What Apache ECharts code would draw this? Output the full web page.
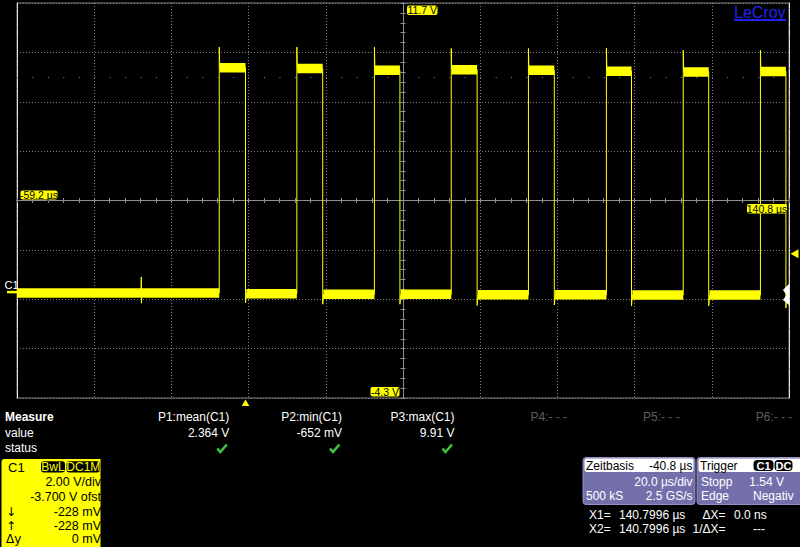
<!DOCTYPE html>
<html>
<head>
<meta charset="utf-8">
<script src="https://cdn.jsdelivr.net/npm/echarts@6/dist/echarts.min.js"></script>
<style>
html,body{margin:0;padding:0;background:#000;overflow:hidden;}
#c{width:800px;height:547px;}
</style>
</head>
<body>
<div id="c"></div>
<script>
const timeRange = [-59.2, 140.8];          // µs  (20 µs/div, 10 div)
const voltRange = [-4.3, 11.7];            // V   (2 V/div, 8 div, -3.7 V offset)
const riseTimes      = [-6.8, 13.3, 33.4, 53.3, 73.3, 93.5, 113.4, 133.4];
const fallTimes      = [0.0, 20.0, 40.0, 60.0, 80.0, 100.0, 120.0, 140.0];
const highLevels     = [9.08, 9.05, 8.98, 9.00, 8.98, 8.94, 8.91, 8.93];
const overshootPeaks = [9.91, 9.91, 9.91, 9.86, 9.86, 9.88, 9.79, 9.79];
const lowLevels      = [-0.05, -0.08, -0.10, -0.10, -0.12, -0.12, -0.13, -0.13, -0.13];
const undershoots    = [-0.45, -0.50, -0.50, -0.55, -0.53, -0.57, -0.57, -0.65];
const glitchTimes = [-27.0];
const glitchHigh  = [0.60];
const glitchLow   = [-0.46];
const triggerLevel = 1.54;      // V
const triggerTime  = 0.0;       // µs
const groundLevel  = 0.0;       // V
const cursorTime   = 140.7996;  // µs
const dottedRowLevel = 8.7;     // V
const scaleLabels = ['11.7 V', '-4.3 V', '-59.2 µs', '140.8 µs'];
const measureNames  = ['P1:mean(C1)', 'P2:min(C1)', 'P3:max(C1)', 'P4:- - -', 'P5:- - -', 'P6:- - -'];
const measureValues = ['2.364 V', '-652 mV', '9.91 V', '', '', ''];
const measureOk     = [true, true, true, false, false, false];
const channelRows   = [['', '2.00 V/div'], ['', '-3.700 V ofst'], ['↓', '-228 mV'], ['↑', '-228 mV'], ['Δy', '0 mV']];
const timebaseRows  = [['Zeitbasis', '-40.8 µs'], ['', '20.0 µs/div'], ['500 kS', '2.5 GS/s']];
const triggerRows   = [['Stopp', '1.54 V'], ['Edge', 'Negativ']];
const cursorRows    = [['X1=', '140.7996 µs', 'ΔX=', '0.0 ns'], ['X2=', '140.7996 µs', '1/ΔX=', '---']];

// ---------------- build series from the arrays ----------------
const trace = [];
trace.push([timeRange[0], lowLevels[0]]);
for (let g = 0; g < glitchTimes.length; g++) {
  trace.push([glitchTimes[g] - 0.05, lowLevels[0]], [glitchTimes[g], glitchHigh[g]],
             [glitchTimes[g] + 0.05, glitchLow[g]], [glitchTimes[g] + 0.1, lowLevels[0]]);
}
for (let i = 0; i < riseTimes.length; i++) {
  trace.push([riseTimes[i], lowLevels[i]], [riseTimes[i], overshootPeaks[i]],
             [riseTimes[i] + 0.12, highLevels[i]], [fallTimes[i], highLevels[i]],
             [fallTimes[i], undershoots[i]], [fallTimes[i] + 0.25, lowLevels[i + 1]]);
}
trace.push([timeRange[1], lowLevels[lowLevels.length - 1]]);

const band = [];
let segStart = timeRange[0];
for (let i = 0; i < riseTimes.length; i++) {
  band.push([segStart, lowLevels[i]], [riseTimes[i], lowLevels[i]], [riseTimes[i], '-']);
  band.push([riseTimes[i] + 0.1, highLevels[i]], [fallTimes[i], highLevels[i]], [fallTimes[i], '-']);
  segStart = fallTimes[i] + 0.2;
}
band.push([segStart, lowLevels[lowLevels.length - 1]], [timeRange[1], lowLevels[lowLevels.length - 1]]);

// ---------------- chart ----------------
const GRID = '#7c7c7c';
const CENTER = '#8e8e8e';
const YEL = '#ffff00';
const FONT = '"Liberation Sans", Arial, sans-serif';

function centerAxis(inside, dim) {
  return {
    type: 'value', min: dim === 'x' ? -5 : -4, max: dim === 'x' ? 5 : 4, interval: 1,
    axisLine: { show: true, onZero: true, onZeroAxisIndex: 2, lineStyle: { color: CENTER, width: 1 } },
    axisTick: { show: true, inside: inside, length: 2.5, lineStyle: { color: CENTER } },
    minorTick: { show: true, splitNumber: 5, length: 2.5, lineStyle: { color: CENTER } },
    axisLabel: { show: false }, splitLine: { show: false }
  };
}

const chart = echarts.init(document.getElementById('c'), null, { renderer: 'svg', width: 800, height: 547 });
const option = {
  backgroundColor: '#000000',
  animation: false,
  grid: { left: 17, top: 3, width: 772, height: 395, show: true, borderColor: '#808080', borderWidth: 1,
          containLabel: false, outerBoundsMode: 'none' },
  xAxis: [
    { type: 'value', min: timeRange[0], max: timeRange[1], show: false, axisLine: { onZero: false } },
    { type: 'value', min: 0, max: 10, interval: 1, position: 'bottom',
      axisLine: { show: false, onZero: false }, axisTick: { show: false }, axisLabel: { show: false },
      splitLine: { show: true, lineStyle: { color: GRID, type: [1, 2], width: 1 } } },
    centerAxis(true, 'x'),
    centerAxis(false, 'x')
  ],
  yAxis: [
    { type: 'value', min: voltRange[0], max: voltRange[1], show: false, axisLine: { onZero: false } },
    { type: 'value', min: 0, max: 8, interval: 1, position: 'left',
      axisLine: { show: true, onZero: false, lineStyle: { color: '#e6e6e6', type: [9, 1], width: 1 } },
      axisTick: { show: false }, axisLabel: { show: false },
      splitLine: { show: true, lineStyle: { color: GRID, type: [1, 2], width: 1 } } },
    centerAxis(true, 'y'),
    centerAxis(false, 'y'),
    { type: 'value', min: 0, max: 8, interval: 1, position: 'right',
      axisLine: { show: true, onZero: false, lineStyle: { color: '#e6e6e6', type: [9, 1], width: 1 } },
      axisTick: { show: false }, axisLabel: { show: false }, splitLine: { show: false } }
  ],
  series: [
    { name: 'band', type: 'line', xAxisIndex: 0, yAxisIndex: 0, data: band, showSymbol: false, silent: true,
      connectNulls: false, lineStyle: { color: YEL, width: 9.5, cap: 'butt' }, z: 3 },
    { name: 'C1', type: 'line', xAxisIndex: 0, yAxisIndex: 0, data: trace, showSymbol: false, silent: true,
      lineStyle: { color: YEL, width: 1 }, z: 4,
      markLine: { silent: true, symbol: ['none', 'none'], label: { show: false },
        lineStyle: { color: '#8a8a8a', type: [1, 14.44], width: 1 },
        data: [{ yAxis: dottedRowLevel }] } }
  ]
};
chart.setOption(option);

// ---------------- texts and indicators ----------------
const px = (t, v) => chart.convertToPixel({ seriesIndex: 1 }, [t, v]);
function txt(x, y, s, o) {
  return { type: 'text', x: x, y: y, z: 100, silent: true,
    style: Object.assign({ text: s, fill: '#ffffff', font: '12px ' + FONT, align: 'left', verticalAlign: 'middle' }, o || {}) };
}
function rect(x, y, w, h, fill, r, extra) {
  return { type: 'rect', z: 100, silent: true, shape: { x: x, y: y, width: w, height: h, r: r || 0 },
    style: Object.assign({ fill: fill }, extra || {}) };
}
function poly(points, fill) {
  return { type: 'polygon', z: 100, silent: true, shape: { points: points }, style: { fill: fill } };
}
function check(right, cy) {
  return { type: 'polyline', z: 100, silent: true,
    shape: { points: [[right - 12, cy + 0.5], [right - 9, cy + 4], [right - 2.5, cy - 3.5]] },
    style: { stroke: '#3cc43c', lineWidth: 2.6, fill: null, lineJoin: 'miter' } };
}

const g = [];
const tl = px(timeRange[0], voltRange[1]);
const br = px(timeRange[1], voltRange[0]);
const midX = (tl[0] + br[0]) / 2, midY = (tl[1] + br[1]) / 2;
const small = { fill: '#000', font: '10.5px ' + FONT, align: 'center' };

// boxed scale labels
g.push(rect(midX + 4, tl[1] + 2.5, 30.5, 9.5, YEL, 2), txt(midX + 19.3, tl[1] + 7.4, scaleLabels[0], small));
g.push(rect(midX - 32.5, br[1] - 11, 29, 9.5, YEL, 2), txt(midX - 18, br[1] - 6.2, scaleLabels[1], small));
g.push(rect(tl[0] + 3.5, midY - 10, 37, 9, YEL, 2), txt(tl[0] + 22, midY - 5.5, scaleLabels[2], small));
g.push(rect(br[0] - 42, midY + 3.5, 40, 9.5, YEL, 2), txt(br[0] - 22, midY + 8.3, scaleLabels[3], small));

// indicators
const gp = px(timeRange[0], groundLevel);
g.push(rect(gp[0] - 10, gp[1] - 1, 10, 2.5, YEL), txt(4.5, gp[1] - 7, 'C1', { font: '11px ' + FONT }));
const tp = px(timeRange[1], triggerLevel);
g.push(poly([[tp[0] + 1.5, tp[1]], [tp[0] + 9.5, tp[1] - 4.5], [tp[0] + 9.5, tp[1] + 4.5]], YEL));
const tt = px(triggerTime, voltRange[0]);
g.push(poly([[tt[0], tt[1] + 1.5], [tt[0] - 3.8, tt[1] + 8], [tt[0] + 3.8, tt[1] + 8]], YEL));
const cp = px(cursorTime, lowLevels[lowLevels.length - 1]);
g.push(poly([[cp[0], cp[1] - 11], [cp[0], cp[1] + 10], [cp[0] - 6, cp[1] + 5], [cp[0] - 2.5, cp[1]], [cp[0] - 6, cp[1] - 5]], '#ffffff'));

// LeCroy logo
g.push(txt(734, 12.3, 'LeCroy', { fill: '#2222ee', font: '16px ' + FONT }), rect(734, 19, 52, 2, '#2222ee'));

// measurement table
g.push(txt(5, 416.7, 'Measure', { font: 'bold 12px ' + FONT }), txt(5, 433, 'value'), txt(5, 447.5, 'status'));
for (let i = 0; i < measureNames.length; i++) {
  const right = 229.3 + 112.6 * i;
  g.push(txt(right, 416.7, measureNames[i], { align: 'right', fill: measureOk[i] ? '#ffffff' : '#5e5e5e' }));
  if (measureValues[i]) g.push(txt(right, 433, measureValues[i], { align: 'right' }));
  if (measureOk[i]) g.push(check(right, 448));
}

// channel box
g.push(rect(1.5, 459, 99, 90, YEL, [3, 0, 0, 0]));
g.push(txt(8, 467.3, 'C1', { fill: '#000', font: '13px ' + FONT }));
g.push(rect(41, 461.3, 24, 11.3, '#000', 3), txt(53, 467.2, 'BwL', { fill: YEL, align: 'center' }));
g.push(rect(66.5, 461.3, 33.5, 11.3, '#000', 3), txt(83.3, 467.2, 'DC1M', { fill: YEL, align: 'center' }));
const chY = [482.4, 497.2, 511.7, 526, 538.7];
for (let i = 0; i < channelRows.length; i++) {
  if (channelRows[i][0]) g.push(txt(6, chY[i], channelRows[i][0], { fill: '#000', font: '12px "DejaVu Sans"' }));
  g.push(txt(101, chY[i], channelRows[i][1], { fill: '#000', align: 'right', font: '12.5px ' + FONT }));
}

// timebase box
g.push(rect(583, 457.5, 112, 47, '#736fab', 3, { stroke: '#9390c4', lineWidth: 1 }));
g.push(rect(584.5, 458.5, 109, 13.5, '#ffffff', 2));
g.push(txt(586, 466, timebaseRows[0][0], { fill: '#000' }), txt(692.5, 466, timebaseRows[0][1], { fill: '#000', align: 'right' }));
g.push(txt(692.5, 482.3, timebaseRows[1][1], { align: 'right' }));
g.push(txt(586, 495.8, timebaseRows[2][0]), txt(692.5, 495.8, timebaseRows[2][1], { align: 'right' }));

// trigger box
g.push(rect(697, 457.5, 106, 47, '#736fab', 3, { stroke: '#9390c4', lineWidth: 1 }));
g.push(rect(698.5, 458.5, 104, 13.5, '#ffffff', 2));
g.push(txt(700, 466, 'Trigger', { fill: '#000' }));
g.push(rect(753.5, 460, 20, 11, '#000', 4), txt(763.5, 466, 'C1', { align: 'center', font: 'bold 11px ' + FONT }));
g.push(rect(774.5, 460, 18, 11, '#000', 4), txt(783.5, 466, 'DC', { align: 'center', font: 'bold 11px ' + FONT }));
g.push(txt(701, 482.3, triggerRows[0][0]), txt(784, 482.3, triggerRows[0][1], { align: 'right' }));
g.push(txt(701, 495.8, triggerRows[1][0]), txt(753, 495.8, triggerRows[1][1]));

// cursor readout
const crY = [514.5, 529];
for (let r = 0; r < cursorRows.length; r++) {
  g.push(txt(589, crY[r], cursorRows[r][0]), txt(619, crY[r], cursorRows[r][1]));
  g.push(txt(725.5, crY[r], cursorRows[r][2], { align: 'right' }));
  g.push(txt(r === 0 ? 734 : 753, crY[r], cursorRows[r][3]));
}

chart.setOption({ graphic: { elements: g } });
</script>
</body>
</html>
